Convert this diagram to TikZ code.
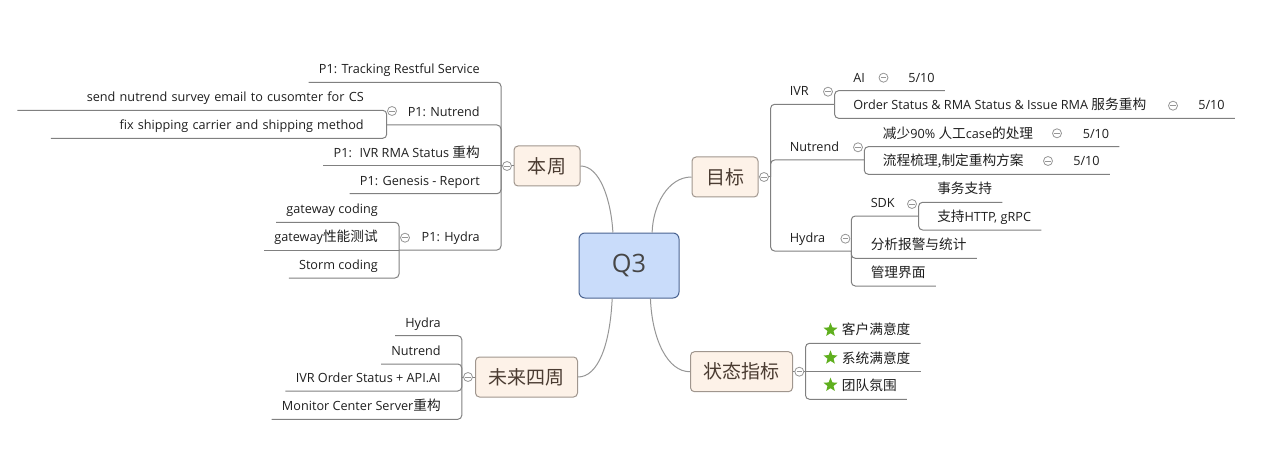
\documentclass[tikz,border=0pt]{standalone}
\usepackage{fontspec}
\setmainfont{Open Sans}
\newfontfamily\cjk[Scale=1.08]{Noto Sans CJK SC}
\newcommand{\zh}[1]{{\cjk #1}}
\usepackage{tikz}
\usetikzlibrary{shapes,shapes.geometric,positioning}

\definecolor{topicfill}{RGB}{253,242,232}
\definecolor{topicline}{RGB}{160,150,142}
\definecolor{topictext}{RGB}{75,60,50}
\definecolor{q3fill}{RGB}{201,220,250}
\definecolor{q3line}{RGB}{75,100,145}
\definecolor{q3text}{RGB}{70,70,70}
\definecolor{linkgray}{RGB}{128,128,128}
\definecolor{curvegray}{RGB}{150,150,150}
\definecolor{foldgray}{RGB}{150,150,150}
\definecolor{leaftext}{RGB}{30,30,30}
\definecolor{stargreen}{RGB}{95,175,30}

\begin{document}
\begin{tikzpicture}[x=0.75pt,y=-0.75pt,
    link/.style={draw=linkgray,line width=0.75pt,rounded corners=3pt},
    curve/.style={draw=curvegray,line width=0.75pt},
    leaf/.style={font=\fontsize{9.5}{11}\selectfont,text=leaftext,inner xsep=7.5pt,
      inner ysep=3.6pt,text height=7pt,text depth=2.5pt},
    topic/.style={draw=topicline,fill=topicfill,rounded corners=3pt,line width=0.75pt,
      minimum width=49.5pt,minimum height=30pt,text=topictext,
      font=\cjk\fontsize{13.2}{15}\selectfont},
    centre/.style={draw=q3line,fill=q3fill,rounded corners=4.5pt,line width=0.75pt,
      minimum width=75pt,minimum height=48.75pt,text=q3text,
      font=\fontsize{19}{22}\selectfont},
    fold/.style={circle,draw=foldgray,fill=white,minimum size=6.75pt,inner sep=0pt,
      line width=0.6pt,path picture={\draw[foldgray,line width=0.6pt]
        ([xshift=1.4pt]path picture bounding box.west) --
        ([xshift=-1.4pt]path picture bounding box.east);}},
    gstar/.style={star,star points=5,star point ratio=2.3,fill=stargreen,
      minimum size=11pt,inner sep=0pt}]
      \useasboundingbox (0,0) rectangle (1274,456);

      % Centre and main topics
      \node[centre] (q3) at (629,265.5) {Q3};
      \node[topic] (bz) at (547,166) {本周};
      \node[topic] (mb) at (725,177) {目标};
      \node[topic,minimum width=76.5pt] (fw) at (526.5,377) {未来四周};
      \node[topic,minimum width=76.5pt] (zt) at (741.5,371.7) {状态指标};

      \draw[curve] (bz.east) .. controls (600,166) and (611,200) .. (q3.116);
      \draw[curve] (q3.55) .. controls (653,205) and (668,177) .. (mb.west);
      \draw[curve] (q3.243) .. controls (610,345) and (598,377) .. (fw.east);
      \draw[curve] (q3.303) .. controls (652,340) and (668,372) .. (zt.west);

      % Left top > this week
      \coordinate (w-j) at (501,166);
      \coordinate (n-j) at (386.7,125);
      \coordinate (h-j) at (399,250);
      \node[leaf,anchor=south east] (w-track) at (490,82.3) {P1: Tracking Restful Service};
      \node[leaf,anchor=south east] (w-nut) at (490,125) {P1: Nutrend};
      \node[leaf,anchor=south east] (w-ivr) at (490,166) {P1: \ IVR RMA Status \zh{重构}};
      \node[leaf,anchor=south east] (w-gen) at (490,193.7) {P1: Genesis - Report};
      \node[leaf,anchor=south east] (w-hyd) at (490,250) {P1: Hydra};
      \draw[link] (bz.west) -- (w-j);
      \draw[link] (w-j) |- (w-track.south west);
      \draw[link] (w-j) |- (n-j);
      \draw[link] (w-j) -- (w-ivr.south west);
      \draw[link] (w-j) |- (w-gen.south west);
      \draw[link] (w-j) |- (h-j);

      % This week > Nutrend
      \node[leaf,anchor=south east,text width=252pt,align=right] (n-send) at (374,110.3)
        {send nutrend survey email to cusomter for CS};
      \node[leaf,anchor=south east,text width=227pt,align=right] (n-fix) at (374,138.3)
        {fix shipping carrier and shipping method};
      \draw[link] (n-j) |- (n-send.south west);
      \draw[link] (n-j) |- (n-fix.south west);

      % This week > Hydra
      \node[leaf,anchor=south east] (h-code) at (388,222.3) {gateway coding};
      \node[leaf,anchor=south east] (h-perf) at (388,250) {gateway\zh{性能测试}};
      \node[leaf,anchor=south east] (h-storm) at (388,278) {Storm coding};
      \draw[link] (h-j) |- (h-code.south west);
      \draw[link] (h-j) -- (h-perf.south west);
      \draw[link] (h-j) |- (h-storm.south west);

      % Right top > goals
      \coordinate (m-j) at (770.6,177);
      \coordinate (i-j) at (834.6,104.3);
      \coordinate (u-j) at (864.3,160);
      \coordinate (y-j) at (851.3,251);
      \coordinate (s-j) at (918.6,216);
      \node[leaf,anchor=south west] (m-ivr) at (779.5,104.3) {IVR};
      \node[leaf,anchor=south west] (m-nut) at (779.5,160) {Nutrend};
      \node[leaf,anchor=south west] (m-hyd) at (779.5,251) {Hydra};
      \draw[link] (mb.east) -- (m-j);
      \draw[link] (m-j) |- (i-j);
      \draw[link] (m-j) |- (u-j);
      \draw[link] (m-j) |- (y-j);

      % Goals > IVR
      \node[leaf,anchor=south west] (i-ai) at (843,90.7) {AI};
      \node[leaf,anchor=south west] (i-ai-s) at (898,90.7) {5/10};
      \node[leaf,anchor=south west] (i-ord) at (843,118.3)
        {Order Status \& RMA Status \& Issue RMA \zh{服务重构}};
      \node[leaf,anchor=south west] (i-ord-s) at (1188,118.3) {5/10};
      \draw[link] (i-j) |- (i-ai-s.south east);
      \draw[link] (i-j) |- (i-ord-s.south east);

      % Goals > Nutrend
      \node[leaf,anchor=south west] (u-cut) at (872.7,146.7) {\zh{减少}90\% \zh{人工}case\zh{的处理}};
      \node[leaf,anchor=south west] (u-cut-s) at (1072.5,146.7) {5/10};
      \node[leaf,anchor=south west] (u-plan) at (872.7,174.3) {\zh{流程梳理,制定重构方案}};
      \node[leaf,anchor=south west] (u-plan-s) at (1063,174.3) {5/10};
      \draw[link] (u-j) |- (u-cut-s.south east);
      \draw[link] (u-j) |- (u-plan-s.south east);

      % Goals > Hydra
      \node[leaf,anchor=south west] (y-sdk) at (860.5,216) {SDK};
      \node[leaf,anchor=south west] (y-stat) at (860.5,258.3) {\zh{分析报警与统计}};
      \node[leaf,anchor=south west] (y-ui) at (860.5,286) {\zh{管理界面}};
      \node[leaf,anchor=south west] (s-tx) at (927,202.3) {\zh{事务支持}};
      \node[leaf,anchor=south west] (s-rpc) at (927,230) {\zh{支持}HTTP, gRPC};
      \draw[link] (y-j) |- (s-j);
      \draw[link] (y-j) |- (y-stat.south east);
      \draw[link] (y-j) |- (y-ui.south east);
      \draw[link] (s-j) |- (s-tx.south east);
      \draw[link] (s-j) |- (s-rpc.south east);

      % Left bottom > next four weeks
      \coordinate (f-j) at (461.8,377);
      \node[leaf,anchor=south east] (f-hyd) at (451,335.7) {Hydra};
      \node[leaf,anchor=south east] (f-nut) at (451,364) {Nutrend};
      \node[leaf,anchor=south east] (f-ivr) at (451,391) {IVR Order Status + API.AI};
      \node[leaf,anchor=south east] (f-mon) at (451,419.3) {Monitor Center Server\zh{重构}};
      \draw[link] (fw.west) -- (f-j);
      \draw[link] (f-j) |- (f-hyd.south west);
      \draw[link] (f-j) |- (f-nut.south west);
      \draw[link] (f-j) |- (f-ivr.south west);
      \draw[link] (f-j) |- (f-mon.south west);

      % Right bottom > status
      \coordinate (z-j) at (805.5,371.7);
      \node[leaf,anchor=south west] (z-cust) at (831.7,343.3) {\zh{客户满意度}};
      \node[leaf,anchor=south west] (z-sys) at (831.7,371.7) {\zh{系统满意度}};
      \node[leaf,anchor=south west] (z-team) at (831.7,399.3) {\zh{团队氛围}};
      \node[gstar] (z-cust-s) at (830.5,330) {};
      \node[gstar] (z-sys-s) at (830.5,357.7) {};
      \node[gstar] (z-team-s) at (830.5,385) {};
      \draw[link] (zt.east) -- (z-j);
      \draw[link] (z-j) |- (z-cust.south east);
      \draw[link] (z-j) -- (z-sys.south east);
      \draw[link] (z-j) |- (z-team.south east);

      % Fold marks
      \node[fold] (w-fold) at (507,166) {};
      \node[fold] (n-fold) at (392,111) {};
      \node[fold] (h-fold) at (405,237.7) {};
      \node[fold] (m-fold) at (764,177) {};
      \node[fold] (i-fold) at (828,91.7) {};
      \node[fold] (i-ai-f) at (883.5,77.7) {};
      \node[fold] (i-ord-f) at (1173,105.7) {};
      \node[fold] (u-fold) at (858,147.3) {};
      \node[fold] (u-cut-f) at (1057,133.3) {};
      \node[fold] (u-plan-f) at (1048,161) {};
      \node[fold] (y-fold) at (845.4,238.7) {};
      \node[fold] (s-fold) at (912,204) {};
      \node[fold] (f-fold) at (468,377) {};
      \node[fold] (z-fold) at (799.3,371.7) {};
    \end{tikzpicture}
\end{document}
